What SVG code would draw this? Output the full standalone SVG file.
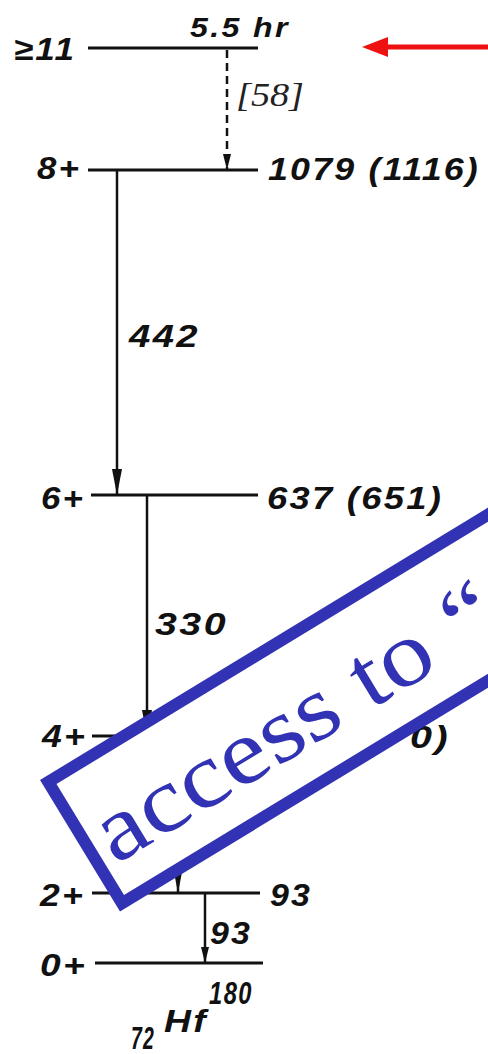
<svg xmlns="http://www.w3.org/2000/svg" width="488" height="1054" viewBox="0 0 488 1054">
<style>
.lvl{stroke:#111;stroke-width:3;fill:none}
.tr{stroke:#111;stroke-width:2.5;fill:none}
.lab{font-family:"Liberation Sans",Arial,sans-serif;font-style:italic;font-weight:bold;font-size:32px;fill:#111;letter-spacing:2px}
.sm{font-size:27px}
.ser{font-family:"Liberation Serif","Times New Roman","DejaVu Serif",serif}
</style>
<defs>
<marker id="arr" markerUnits="userSpaceOnUse" viewBox="0 0 10 26" refX="5" refY="25" markerWidth="10" markerHeight="26" orient="0">
<path d="M0,0 L10,0 L5,26 Z" fill="#111"/>
</marker>
<marker id="arrs" markerUnits="userSpaceOnUse" viewBox="0 0 8 16" refX="4" refY="15" markerWidth="8" markerHeight="16" orient="0">
<path d="M0,0 L8,0 L4,16 Z" fill="#111"/>
</marker>
</defs>
<rect width="488" height="1054" fill="#fff"/>

<g id="level-11">
<line class="lvl" x1="88" y1="48" x2="258" y2="48"/>
<text class="lab" x="14" y="60" textLength="62" lengthAdjust="spacingAndGlyphs">≥11</text>
<text class="lab sm" x="190" y="37" textLength="100" lengthAdjust="spacingAndGlyphs">5.5 hr</text>
</g>
<g id="level-8">
<line class="lvl" x1="88" y1="170" x2="258" y2="170"/>
<text class="lab" x="37" y="179" textLength="44" lengthAdjust="spacingAndGlyphs">8+</text>
<text class="lab" x="268" y="180" textLength="212" lengthAdjust="spacingAndGlyphs">1079 (1116)</text>
</g>
<g id="level-6">
<line class="lvl" x1="91" y1="495" x2="258" y2="495"/>
<text class="lab" x="41" y="509" textLength="44" lengthAdjust="spacingAndGlyphs">6+</text>
<text class="lab" x="267" y="509" textLength="176" lengthAdjust="spacingAndGlyphs">637 (651)</text>
</g>
<g id="level-4">
<line class="lvl" x1="92" y1="736" x2="258" y2="736"/>
<text class="lab" x="42" y="747" textLength="45" lengthAdjust="spacingAndGlyphs">4+</text>
<text class="lab" x="410" y="748" textLength="40" lengthAdjust="spacingAndGlyphs">0)</text>
</g>
<g id="level-2">
<line class="lvl" x1="92" y1="893" x2="260" y2="893"/>
<text class="lab" x="40" y="906" textLength="45" lengthAdjust="spacingAndGlyphs">2+</text>
<text class="lab" x="270" y="906" textLength="42" lengthAdjust="spacingAndGlyphs">93</text>
</g>
<g id="level-0">
<line class="lvl" x1="95" y1="963" x2="263" y2="963"/>
<text class="lab" x="40" y="976" textLength="47" lengthAdjust="spacingAndGlyphs">0+</text>
</g>
<g id="nuclide">
<text class="lab" x="164" y="1032" font-size="38" textLength="44" lengthAdjust="spacingAndGlyphs">Hf</text>
<text class="lab" x="209" y="1004" font-size="25" textLength="44" lengthAdjust="spacingAndGlyphs">180</text>
<text class="lab" x="131" y="1049" font-size="21" textLength="24" lengthAdjust="spacingAndGlyphs">72</text>
</g>

<g id="connectors">
<line class="tr" x1="227" y1="50" x2="227" y2="169" stroke-dasharray="8,5" marker-end="url(#arrs)"/>
<text class="ser" x="236" y="106" font-style="italic" font-size="34" fill="#222" textLength="68" lengthAdjust="spacingAndGlyphs">[58]</text>
<line class="tr" x1="117" y1="171" x2="117" y2="494" marker-end="url(#arr)"/>
<text class="lab" x="129" y="347" textLength="71" lengthAdjust="spacingAndGlyphs">442</text>
<line class="tr" x1="147" y1="496" x2="147" y2="735" marker-end="url(#arr)"/>
<text class="lab" x="155" y="635" textLength="73" lengthAdjust="spacingAndGlyphs">330</text>
<line class="tr" x1="178" y1="737" x2="178" y2="892" marker-end="url(#arr)"/>
<line class="tr" x1="205" y1="894" x2="205" y2="962" marker-end="url(#arrs)"/>
<text class="lab" x="210" y="944" textLength="42" lengthAdjust="spacingAndGlyphs">93</text>
<g id="red-arrow">
<line x1="488" y1="47" x2="382" y2="47" stroke="#ee1111" stroke-width="5"/>
<path d="M362,47 L388,37 L388,57 Z" fill="#ee1111"/>
</g>
</g>

<g id="watermark" transform="translate(40,780) rotate(-31.3)">
<rect x="6" y="6" width="700" height="142" fill="#fff" stroke="#3232b4" stroke-width="12"/>
<text class="ser" x="20" y="112" font-size="92" fill="#3232b4" textLength="455" lengthAdjust="spacingAndGlyphs">access to “</text>
</g>
</svg>
